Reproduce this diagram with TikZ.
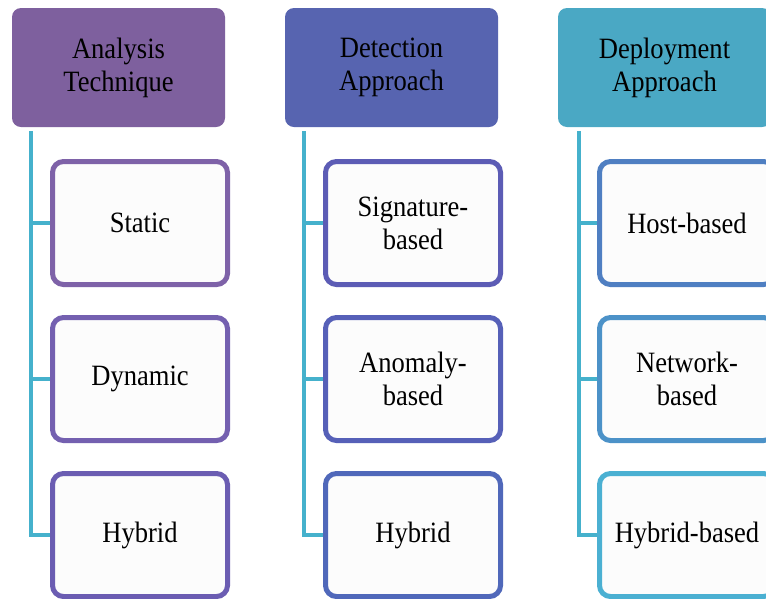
\documentclass[tikz,border=0pt]{standalone}
\usepackage{fontspec}
\setmainfont{Liberation Serif}[FakeStretch=0.9]
\begin{document}
\begin{tikzpicture}[x=1pt,y=-1pt,
  header/.style={rectangle, rounded corners=9pt, minimum width=213pt, minimum height=119pt,
    inner sep=0pt, align=center, text=black, font=\fontsize{29.5}{33}\selectfont},
  item/.style={rectangle, rounded corners=11pt, line width=5pt, fill=white!99!black,
    minimum width=175pt, minimum height=123pt, inner sep=0pt, align=center,
    text=black, font=\fontsize{29.5}{33}\selectfont},
  link/.style={draw=linkc, line width=4.5pt}
]
\definecolor{hA}{HTML}{7E609E}
\definecolor{hB}{HTML}{5764B0}
\definecolor{hC}{HTML}{4AA8C4}
\definecolor{bA1}{HTML}{7E62A8}
\definecolor{bA2}{HTML}{7460B0}
\definecolor{bA3}{HTML}{6B5DB2}
\definecolor{bB1}{HTML}{5C5CB5}
\definecolor{bB2}{HTML}{5660B8}
\definecolor{bB3}{HTML}{5068BA}
\definecolor{bC1}{HTML}{4F7FC2}
\definecolor{bC2}{HTML}{4C92C8}
\definecolor{bC3}{HTML}{4BB0D2}
\definecolor{linkc}{HTML}{45B1CC}

\useasboundingbox (0,0) rectangle (766,598);
\clip (0,0) rectangle (766,598);
\fill[white] (0,0) rectangle (766,598);

% column headers
\node[header, fill=hA] (h1) at (118.5,67.5) {Analysis\\Technique};
\node[header, fill=hB] (h2) at (391.5,67.5) {Detection\\Approach};
\node[header, fill=hC] (h3) at (664.5,67.5) {Deployment\\Approach};

% column 1 items
\node[item, draw=bA1] (a1) at (140,223) {Static};
\node[item, draw=bA2] (a2) at (140,379) {Dynamic};
\node[item, draw=bA3] (a3) at (140,535) {Hybrid};

% column 2 items
\node[item, draw=bB1] (b1) at (413,223) {Signature-\\based};
\node[item, draw=bB2] (b2) at (413,379) {Anomaly-\\based};
\node[item, draw=bB3] (b3) at (413,535) {Hybrid};

% column 3 items
\node[item, draw=bC1] (c1) at (687,223) {Host-based};
\node[item, draw=bC2] (c2) at (687,379) {Network-\\based};
\node[item, draw=bC3] (c3) at (687,535) {Hybrid-based};

% connector spines start just under each header
\coordinate (s1) at ([shift={(19,4)}]h1.south west);
\coordinate (s2) at ([shift={(19,4)}]h2.south west);
\coordinate (s3) at ([shift={(21,4)}]h3.south west);

\draw[link] (s1) |- (a3.west);
\draw[link] (s1 |- a1.west) -- (a1.west);
\draw[link] (s1 |- a2.west) -- (a2.west);

\draw[link] (s2) |- (b3.west);
\draw[link] (s2 |- b1.west) -- (b1.west);
\draw[link] (s2 |- b2.west) -- (b2.west);

\draw[link] (s3) |- (c3.west);
\draw[link] (s3 |- c1.west) -- (c1.west);
\draw[link] (s3 |- c2.west) -- (c2.west);
\end{tikzpicture}
\end{document}
